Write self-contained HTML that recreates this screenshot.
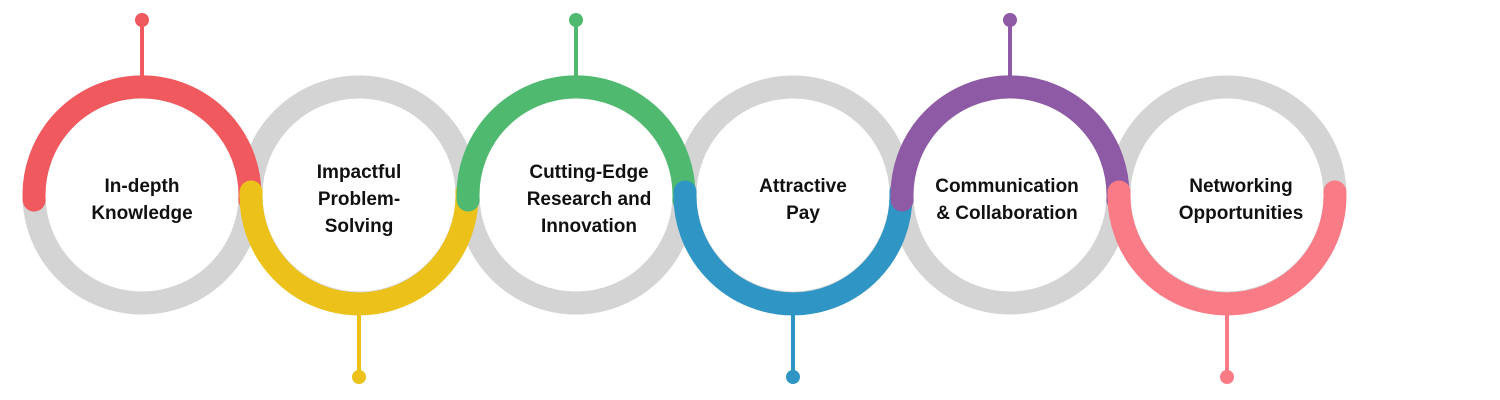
<!DOCTYPE html>
<html><head><meta charset="utf-8"><style>
html,body{margin:0;padding:0;background:#fff;}
svg{display:block}
text{font-family:"Liberation Sans",sans-serif;font-weight:bold;font-size:19px;fill:#111;text-anchor:middle}
</style></head><body>
<svg width="1500" height="400" viewBox="0 0 1500 400">
<g fill="none" stroke="#d4d4d4" stroke-width="23">
<circle cx="142" cy="195" r="108"/><circle cx="359" cy="195" r="108"/><circle cx="576" cy="195" r="108"/>
<circle cx="793" cy="195" r="108"/><circle cx="1010" cy="195" r="108"/><circle cx="1227" cy="195" r="108"/>
</g>
<g stroke-width="4">
<line x1="142" y1="20" x2="142" y2="80" stroke="#f05a5e"/><circle cx="142" cy="20" r="7" fill="#f05a5e" stroke="none"/>
<line x1="576" y1="20" x2="576" y2="80" stroke="#4fba6f"/><circle cx="576" cy="20" r="7" fill="#4fba6f" stroke="none"/>
<line x1="1010" y1="20" x2="1010" y2="80" stroke="#8e5aa5"/><circle cx="1010" cy="20" r="7" fill="#8e5aa5" stroke="none"/>
<line x1="359" y1="310" x2="359" y2="377" stroke="#ecc21a"/><circle cx="359" cy="377" r="7" fill="#ecc21a" stroke="none"/>
<line x1="793" y1="310" x2="793" y2="377" stroke="#2e95c4"/><circle cx="793" cy="377" r="7" fill="#2e95c4" stroke="none"/>
<line x1="1227" y1="310" x2="1227" y2="377" stroke="#f87b85"/><circle cx="1227" cy="377" r="7" fill="#f87b85" stroke="none"/>
</g>
<g fill="none" stroke-width="23" stroke-linecap="round">
<path d="M34.12 200 A108 108 0 1 1 249.88 200" stroke="#f05a5e"/>
<path d="M251.07 192 A108 108 0 1 0 466.93 192" stroke="#ecc21a"/>
<path d="M468.12 200 A108 108 0 1 1 683.88 200" stroke="#4fba6f"/>
<path d="M685.07 192 A108 108 0 1 0 900.93 192" stroke="#2e95c4"/>
<path d="M902.12 200 A108 108 0 1 1 1117.88 200" stroke="#8e5aa5"/>
<path d="M1119.07 192 A108 108 0 1 0 1334.93 192" stroke="#f87b85"/>
</g>
<text x="142" y="192">In-depth</text><text x="142" y="219">Knowledge</text>
<text x="359" y="178">Impactful</text><text x="359" y="205">Problem-</text><text x="359" y="232">Solving</text>
<text x="589" y="178">Cutting-Edge</text><text x="589" y="205">Research and</text><text x="589" y="232">Innovation</text>
<text x="803" y="192">Attractive</text><text x="803" y="219">Pay</text>
<text x="1007" y="192">Communication</text><text x="1007" y="219">&amp; Collaboration</text>
<text x="1241" y="192">Networking</text><text x="1241" y="219">Opportunities</text>
</svg>
</body></html>
